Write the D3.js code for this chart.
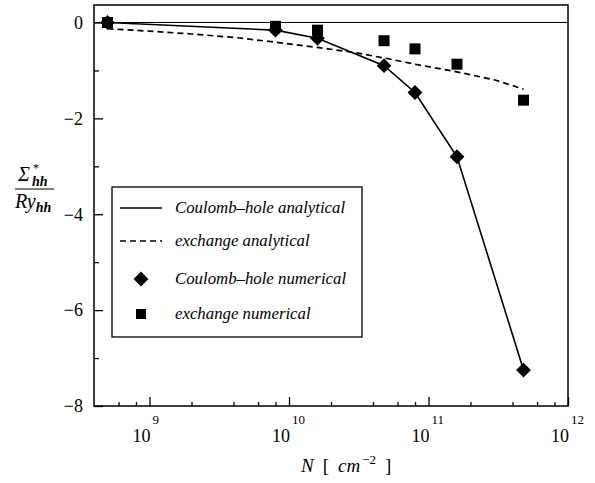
<!DOCTYPE html>
<html>
<head>
<meta charset="utf-8">
<script src="https://cdn.jsdelivr.net/npm/d3@7"></script>
<style>
  body { margin: 0; background: #fff; }
  svg text { font-family: "Liberation Serif", "Times New Roman", Times, "DejaVu Serif", serif !important; fill: #000; }
</style>
</head>
<body>
<div id="chart"></div>
<script>
// carrier density N [cm^-2] of the numerical points
var density = [5e8, 8e9, 1.6e10, 4.8e10, 8e10, 1.6e11, 4.8e11];
// Sigma*_hh / Ry_hh
var coulombNumerical = [0, -0.16, -0.33, -0.90, -1.46, -2.80, -7.25];
var exchangeNumerical = [0, -0.08, -0.16, -0.38, -0.55, -0.87, -1.62];
var coulombAnalytical = [0, -0.16, -0.33, -0.90, -1.46, -2.80, -7.25];
// the dashed analytical exchange curve, sampled
var curveDensity = [5e8, 1e9, 2e9, 4e9, 8e9, 1.6e10, 3e10, 5e10, 8e10, 1.6e11, 3e11, 4.8e11];
var exchangeAnalytical = [-0.13, -0.18, -0.24, -0.31, -0.41, -0.52, -0.63, -0.75, -0.87, -1.03, -1.2, -1.39];

var xMajor = [1e9, 1e10, 1e11, 1e12];
var xMinor = [6e8, 8e8, 2e9, 4e9, 6e9, 8e9, 2e10, 4e10, 6e10, 8e10, 2e11, 4e11, 6e11, 8e11];
var yMajor = [0, -2, -4, -6, -8];
var yMinor = [-1, -3, -5, -7];

var legendLabels = ["Coulomb\u2013hole analytical", "exchange analytical",
                    "Coulomb\u2013hole numerical", "exchange numerical"];

var width = 595, height = 483;
// plot frame (window.top is read-only, so no plain "top" here)
var plotL = 94, plotR = 568, plotT = 5, plotB = 406;

var svg = d3.select("#chart").append("svg")
    .attr("width", width)
    .attr("height", height);

var x = d3.scaleLog().domain([4e8, 1e12]).range([plotL, plotR]);
var y = d3.scaleLinear().domain([-8, 0.365]).range([plotB, plotT]);

// frame
svg.append("rect")
    .attr("x", plotL).attr("y", plotT)
    .attr("width", plotR - plotL).attr("height", plotB - plotT)
    .attr("fill", "none").attr("stroke", "#000").attr("stroke-width", 1.5);

// zero line
svg.append("line")
    .attr("x1", plotL).attr("x2", plotR)
    .attr("y1", y(0)).attr("y2", y(0))
    .attr("stroke", "#000").attr("stroke-width", 1);

// x axis (ticks point inward)
svg.append("g")
    .attr("transform", "translate(0," + plotB + ")")
    .call(d3.axisBottom(x).tickValues(xMajor).tickSize(-9).tickFormat(""));
svg.append("g")
    .attr("transform", "translate(0," + plotB + ")")
    .call(d3.axisBottom(x).tickValues(xMinor).tickSize(-4).tickFormat(""));
svg.selectAll(".domain").remove();
svg.selectAll(".tick line").attr("stroke", "#000").attr("stroke-width", 1.3);

// 10^n labels
xMajor.forEach(function(v) {
    var px = x(v);
    svg.append("text")
        .attr("x", px + 1).attr("y", 442)
        .attr("text-anchor", "end")
        .style("font-size", "18px")
        .text("10");
    svg.append("text")
        .attr("x", px + 3).attr("y", 424)
        .style("font-size", "13px")
        .text(Math.round(Math.log10(v)));
});

// y axis
svg.append("g")
    .attr("transform", "translate(" + plotL + ",0)")
    .call(d3.axisLeft(y).tickValues(yMajor).tickSize(-9).tickPadding(11))
    .call(function(g) {
        g.attr("font-family", null);
        g.select(".domain").remove();
        g.selectAll(".tick line").attr("stroke", "#000").attr("stroke-width", 1.3);
        g.selectAll(".tick text")
            .style("font-size", "18px")
            .attr("fill", "#000");
    });
svg.append("g")
    .attr("transform", "translate(" + plotL + ",0)")
    .call(d3.axisLeft(y).tickValues(yMinor).tickSize(-5).tickFormat(""))
    .call(function(g) {
        g.select(".domain").remove();
        g.selectAll(".tick line").attr("stroke", "#000").attr("stroke-width", 1.3);
    });

// Coulomb-hole analytical (solid)
var coulombLine = d3.line()
    .x(function(d, i) { return x(density[i]); })
    .y(function(d) { return y(d); });
svg.append("path")
    .datum(coulombAnalytical)
    .attr("d", coulombLine)
    .attr("fill", "none").attr("stroke", "#000").attr("stroke-width", 1.6);

// exchange analytical (dashed)
var exchangeLine = d3.line()
    .x(function(d, i) { return x(curveDensity[i]); })
    .y(function(d) { return y(d); });
svg.append("path")
    .datum(exchangeAnalytical)
    .attr("d", exchangeLine)
    .attr("fill", "none").attr("stroke", "#000").attr("stroke-width", 1.7)
    .attr("stroke-dasharray", "6,4");

var diamond = d3.symbol().type(d3.symbolSquare).size(110);
var square = d3.symbol().type(d3.symbolSquare).size(121);

// exchange numerical (squares)
svg.selectAll(".sq").data(exchangeNumerical).enter().append("path")
    .attr("class", "sq")
    .attr("d", square)
    .attr("transform", function(d, i) { return "translate(" + x(density[i]) + "," + y(d) + ")"; })
    .attr("fill", "#000");

// Coulomb-hole numerical (diamonds)
svg.selectAll(".dm").data(coulombNumerical).enter().append("path")
    .attr("class", "dm")
    .attr("d", diamond)
    .attr("transform", function(d, i) { return "translate(" + x(density[i]) + "," + y(d) + ") rotate(45)"; })
    .attr("fill", "#000");

// legend
var lg = svg.append("g");
lg.append("rect")
    .attr("x", 112).attr("y", 187).attr("width", 250).attr("height", 150)
    .attr("fill", "#fff").attr("stroke", "#000").attr("stroke-width", 1.3);
var rowY = [208, 241, 279, 314];
lg.append("line").attr("x1", 120).attr("x2", 162).attr("y1", rowY[0]).attr("y2", rowY[0])
    .attr("stroke", "#000").attr("stroke-width", 1.6);
lg.append("line").attr("x1", 120).attr("x2", 162).attr("y1", rowY[1]).attr("y2", rowY[1])
    .attr("stroke", "#000").attr("stroke-width", 1.7).attr("stroke-dasharray", "6,4");
lg.append("path").attr("d", diamond)
    .attr("transform", "translate(141," + rowY[2] + ") rotate(45)");
lg.append("path").attr("d", d3.symbol().type(d3.symbolSquare).size(100))
    .attr("transform", "translate(141," + rowY[3] + ")");
legendLabels.forEach(function(t, i) {
    lg.append("text")
        .attr("x", 175).attr("y", rowY[i] + 5)
        .style("font-style", "italic")
        .style("font-size", "16.8px")
        .text(t);
});

// y label: Sigma*_hh / Ry_hh
var yl = svg.append("g");
yl.append("text").attr("x", 18).attr("y", 181)
    .style("font-style", "italic").style("font-size", "20px")
    .text("\u03A3");
yl.append("text").attr("x", 33).attr("y", 172)
    .style("font-size", "12px").text("*");
yl.append("text").attr("x", 32).attr("y", 186)
    .style("font-style", "italic").style("font-size", "14px").style("font-weight", "bold")
    .text("hh");
yl.append("line").attr("x1", 15).attr("x2", 54).attr("y1", 189).attr("y2", 189)
    .attr("stroke", "#000").attr("stroke-width", 1);
var den = yl.append("text").attr("x", 15).attr("y", 208)
    .style("font-style", "italic").style("font-size", "20px");
den.append("tspan").text("Ry");
den.append("tspan").attr("dy", 4).style("font-size", "14px").style("font-weight", "bold").text("hh");

// x label: N [ cm^-2 ]
var xl = svg.append("text").attr("x", 301).attr("y", 472).style("font-size", "19px");
xl.append("tspan").style("font-style", "italic").text("N");
xl.append("tspan").attr("dx", 9).text("[");
xl.append("tspan").attr("dx", 9).style("font-style", "italic").text("cm");
xl.append("tspan").attr("dx", 2).attr("dy", -8).style("font-size", "13px").text("\u22122");
xl.append("tspan").attr("dx", 9).attr("dy", 8).text("]");
</script>
</body>
</html>
